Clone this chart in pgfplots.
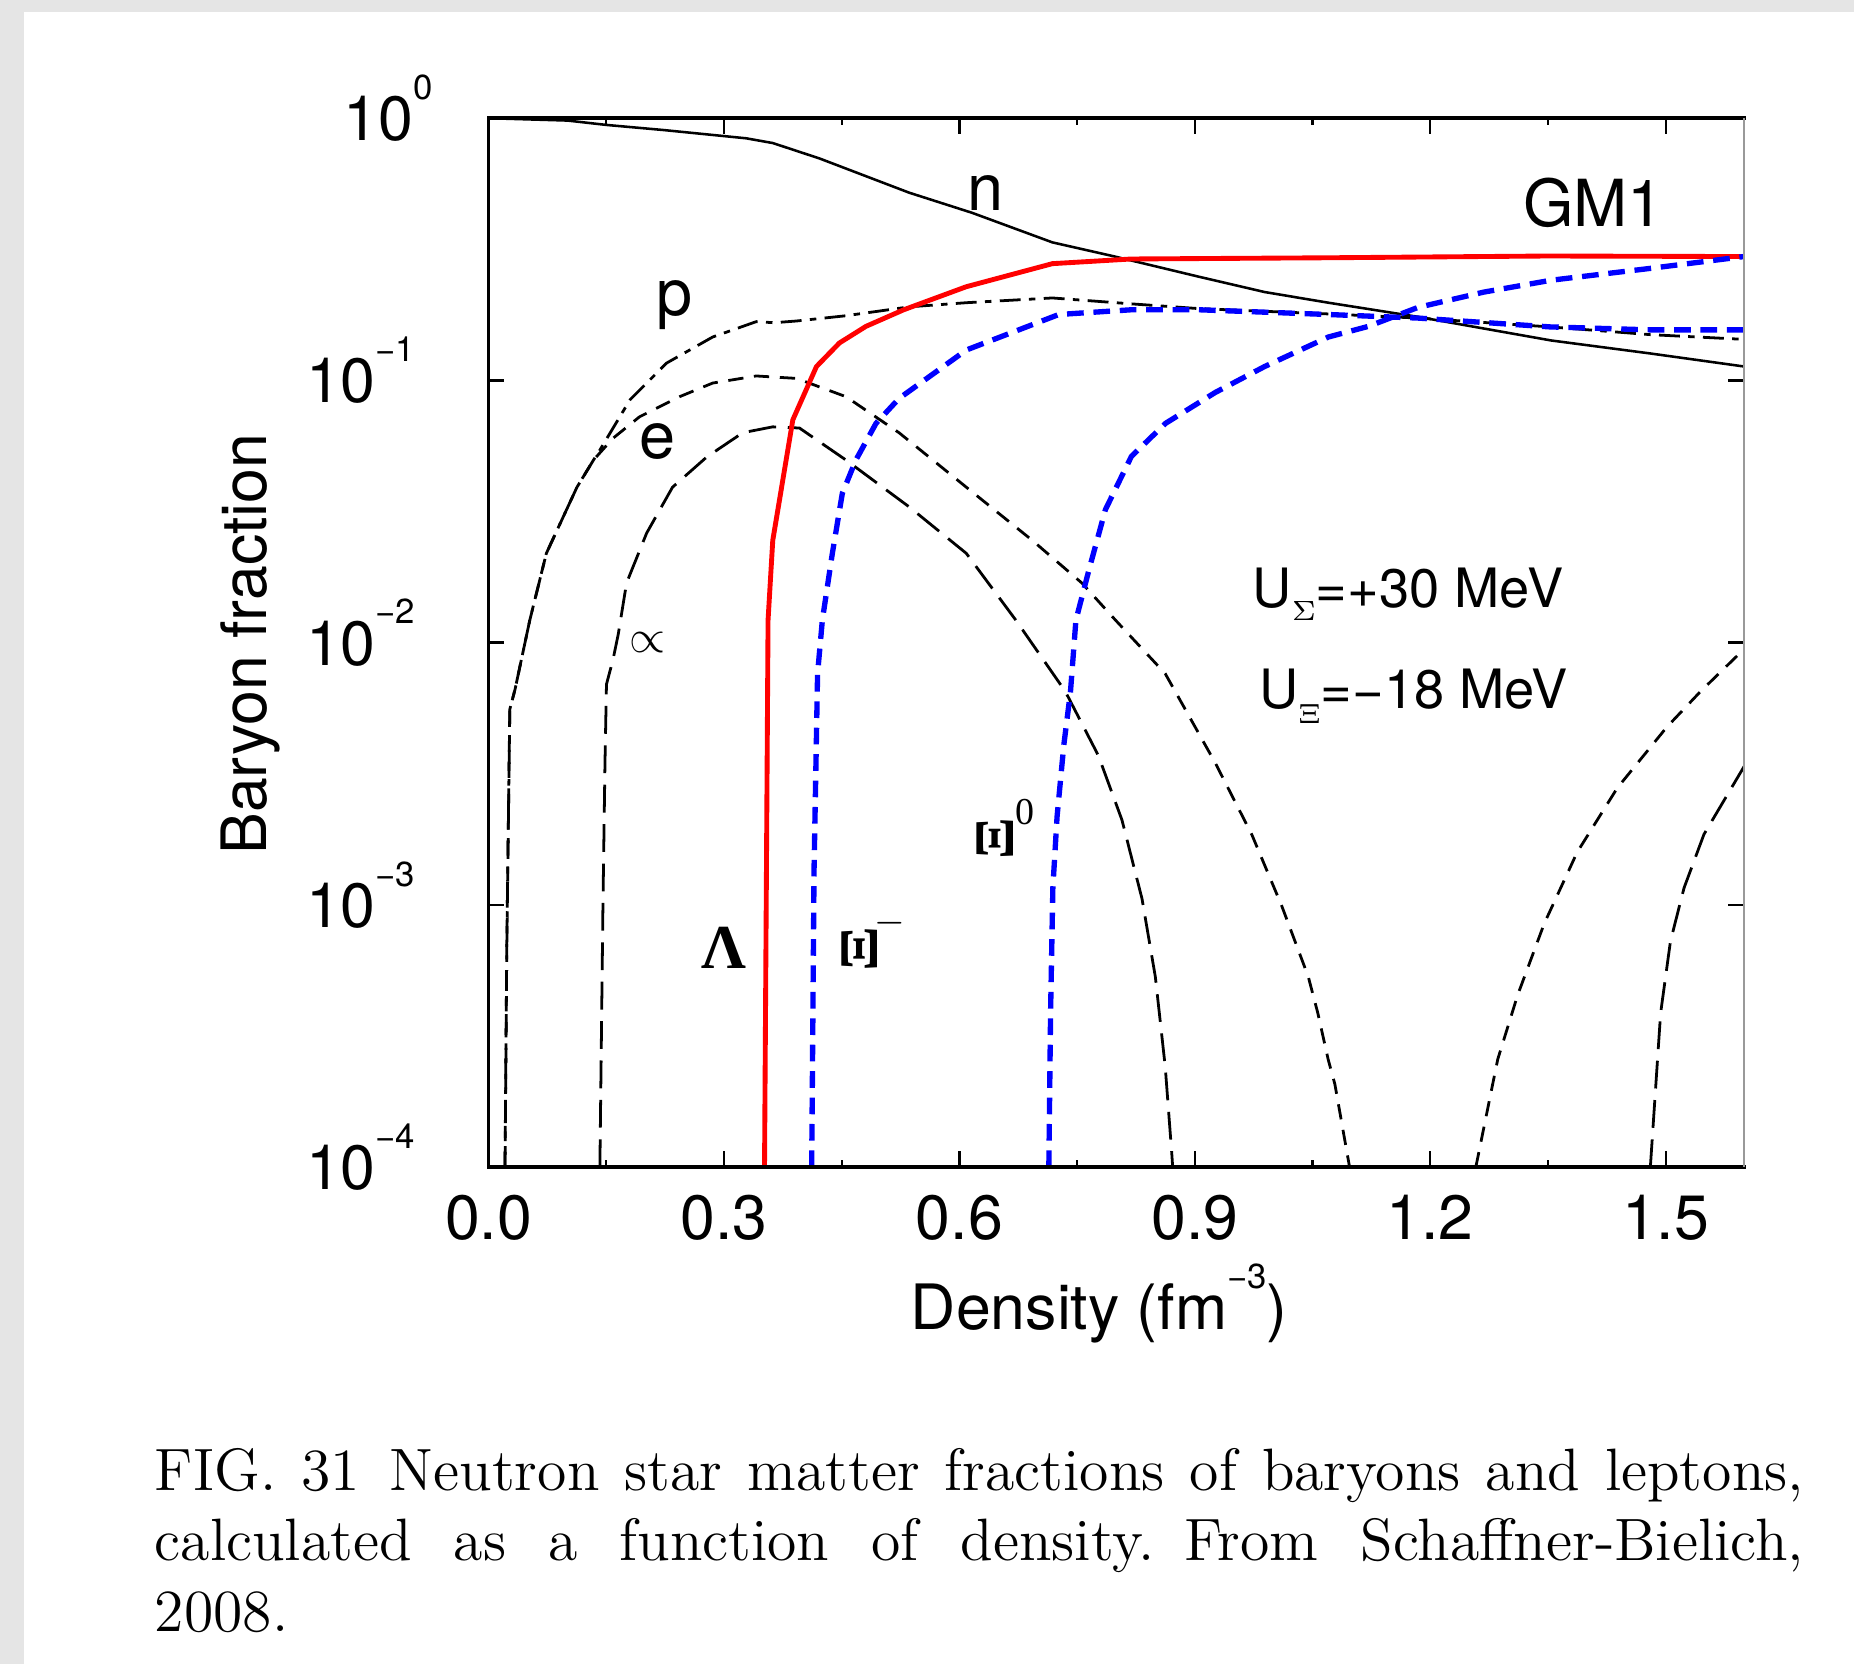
\documentclass[border=0pt]{standalone}
\usepackage{fontspec}
\usepackage{graphicx}
\usepackage{pgfplots}
\pgfplotsset{compat=1.18}
\newfontfamily\hv{TeX Gyre Heros}
\newfontfamily\tms{Liberation Serif}
\newcommand\hvs[1]{\hv\fontsize{#1}{#1}\selectfont}
\newcommand\ex[1]{\raisebox{0.66em}{\fontsize{7.5}{7.5}\selectfont #1}}
\definecolor{rd}{RGB}{255,0,0}
\definecolor{bl}{RGB}{0,0,255}
\begin{document}
\begin{tikzpicture}
\useasboundingbox (0pt,0pt) rectangle (400pt,359pt);
\fill[black!10] (0pt,0pt) rectangle (400pt,359pt);
\fill[white] (5.2pt,0pt) rectangle (400pt,356.4pt);
\begin{axis}[
  at={(105.4pt,107.2pt)}, anchor=south west,
  width=270.9pt, height=226.3pt, scale only axis,
  xmin=0, xmax=1.6, ymode=log, ymin=1e-4, ymax=1,
  xtick={0,0.3,0.6,0.9,1.2,1.5},
  xticklabels={0.0,0.3,0.6,0.9,1.2,1.5},
  minor x tick num=1,
  ytick={1e-4,1e-3,1e-2,1e-1,1},
  yticklabels={10\ex{−4},10\ex{−3},10\ex{−2},10\ex{−1},10\ex{0}\kern-3.8pt},
  yminorticks=false,
  tick align=inside,
  major tick length=3.4pt, minor tick length=1.5pt,
  every tick/.style={black, line width=0.5pt},
  axis line style={draw=none},
  clip mode=individual,
  tick label style={font=\hvs{13.5}},
  xticklabel style={anchor=north, inner sep=0pt, yshift=-5.8pt},
  yticklabel style={anchor=base east, inner sep=0pt, xshift=-15.6pt, yshift=-4.85pt},
  xlabel={Density (fm\ex{−3})},
  ylabel={Baryon fraction},
  label style={font=\hvs{13.5}},
  xlabel style={at={(axis description cs:0.4865,-0.130)}, anchor=center, inner sep=0pt},
  ylabel style={at={(axis description cs:-0.1894,0.4985)}, anchor=center, inner sep=0pt},
]
% n
\addplot[black, line width=0.55pt] coordinates {
(0,1.0) (0.1007,0.9795) (0.1503,0.9426) (0.2225,0.9016) (0.3284,0.8381) (0.3622,0.8040)
(0.4216,0.7026) (0.536,0.5200) (0.6163,0.4356) (0.7185,0.3361) (0.7981,0.2968)
(0.9049,0.2487) (0.989,0.2173) (1.0702,0.1979) (1.1844,0.1748) (1.3543,0.1420)
(1.4805,0.1267) (1.6,0.1130)};
% p
\addplot[black, line width=0.6pt, dash pattern=on 4.5pt off 1.8pt on 1.4pt off 1.8pt] coordinates {
(0.021,1e-4) (0.0233,6.97e-4) (0.0271,0.005563) (0.0338,0.006637) (0.0526,0.01219)
(0.0737,0.02191) (0.1127,0.03917) (0.1338,0.04973) (0.142,0.05433) (0.1804,0.08446)
(0.227,0.1165) (0.2856,0.1464) (0.3412,0.1676) (0.3637,0.166) (0.3923,0.1685)
(0.4555,0.1765) (0.5366,0.1909) (0.6088,0.1979) (0.7185,0.2063) (0.8192,0.1959)
(0.9049,0.1879) (1.0702,0.1793) (1.1844,0.1729) (1.3528,0.1600) (1.4805,0.1495)
(1.6,0.1434)};
% e
\addplot[black, line width=0.6pt, dash pattern=on 3.3pt off 2.3pt] coordinates {
(0.021,1e-4) (0.0233,6.97e-4) (0.0271,0.005563) (0.0338,0.006637) (0.0526,0.01219)
(0.0737,0.02191) (0.1127,0.03917) (0.1338,0.04973) (0.1587,0.06021) (0.1924,0.07266)
(0.2435,0.08670) (0.2856,0.09770) (0.3412,0.1040) (0.3923,0.1018) (0.4555,0.08670)
(0.5231,0.06318) (0.6088,0.03917) (0.6929,0.02455) (0.756,0.01689) (0.7989,0.01219)
(0.8623,0.007621) (0.9259,0.003486) (0.9725,0.001858) (1.0107,9.922e-4)
(1.0446,5.321e-4) (1.0567,3.873e-4) (1.0699,2.576e-4) (1.0785,2.070e-4) (1.0972,1e-4)};
% e (second branch)
\addplot[black, line width=0.6pt, dash pattern=on 3.3pt off 2.3pt] coordinates {
(1.2581,1e-4) (1.286,2.576e-4) (1.3114,4.530e-4) (1.3453,8.492e-4) (1.3873,0.001589)
(1.4384,0.002793) (1.5016,0.004770) (1.5444,0.006514) (1.5912,0.008913) (1.6,0.00944)};
% mu
\addplot[black, line width=0.6pt, dash pattern=on 6pt off 2.5pt] coordinates {
(0.1419,1e-4) (0.1458,9.922e-4) (0.1484,0.003486) (0.1503,0.006939) (0.1587,0.008637)
(0.1653,0.01076) (0.1759,0.01689) (0.2014,0.02614) (0.2345,0.03917) (0.2781,0.05105)
(0.3239,0.06318) (0.3622,0.06653) (0.3962,0.06584) (0.4554,0.04973) (0.5366,0.03284)
(0.6088,0.02191) (0.6719,0.01219) (0.735,0.006516) (0.7771,0.003710) (0.8072,0.002106)
(0.8327,0.001056) (0.8497,5.321e-4) (0.8623,2.416e-4) (0.8707,1.122e-4) (0.8718,1e-4)};
% mu (second branch)
\addplot[black, line width=0.6pt, dash pattern=on 6pt off 2.5pt] coordinates {
(1.4805,1e-4) (1.4936,3.873e-4) (1.5061,7.266e-4) (1.5234,0.001160) (1.5488,0.001858)
(1.6,0.003373)};
% Lambda
\addplot[rd, line width=1.05pt] coordinates {
(0.3517,1e-4) (0.3562,0.01219) (0.3622,0.02455) (0.3878,0.07079) (0.4179,0.1130)
(0.4472,0.1390) (0.481,0.1608) (0.5291,0.1860) (0.6088,0.2277) (0.7185,0.2788)
(0.8192,0.2905) (1.0702,0.2936) (1.3498,0.2982) (1.6,0.2968)};
% Xi-
\addplot[bl, line width=1.15pt, dash pattern=on 3.6pt off 2.1pt] coordinates {
(0.4118,1e-4) (0.4148,0.001358) (0.4193,0.007621) (0.4254,0.01219) (0.4381,0.02188)
(0.4509,0.03715) (0.4682,0.04977) (0.4938,0.06863) (0.5231,0.08535) (0.6088,0.1306)
(0.7267,0.1784) (0.8192,0.1860) (0.9049,0.1860) (1.0702,0.1784) (1.1844,0.1729)
(1.3528,0.1600) (1.4805,0.1559) (1.6,0.1559)};
% Xi0
\addplot[bl, line width=1.15pt, dash pattern=on 3.6pt off 2.1pt] coordinates {
(0.714,1e-4) (0.7162,3.873e-4) (0.7191,0.001159) (0.7245,0.002173) (0.7331,0.004074)
(0.7416,0.006516) (0.7485,0.01219) (0.7651,0.01894) (0.7861,0.03216) (0.8192,0.05132)
(0.8628,0.06863) (0.9259,0.08991) (0.989,0.1130) (1.0702,0.1464) (1.1213,0.1608)
(1.1844,0.1899) (1.2686,0.2173) (1.3543,0.2411) (1.4805,0.2675) (1.6,0.2968)};
% frame
\draw[line width=0.75pt, line cap=rect] (rel axis cs:1,0) -- (rel axis cs:0,0) -- (rel axis cs:0,1) -- (rel axis cs:1,1);
\draw[black!40, line width=0.35pt] (rel axis cs:1,0) -- (rel axis cs:1,1);
% labels
\node[font=\hvs{14}, inner sep=0pt] at (axis cs:0.6336,0.517) {n};
\node[font=\hvs{14}, inner sep=0pt] at (axis cs:1.408,0.4735) {GM1};
\node[font=\hvs{14}, inner sep=0pt] at (axis cs:0.2372,0.1943) {p};
\node[font=\hvs{14}, inner sep=0pt] at (axis cs:0.2149,0.05843) {e};
\node[font=\fontsize{10}{10}\selectfont, inner sep=0pt] at (axis cs:0.2029,0.01005) {$\propto$};
\node[font=\tms\bfseries\fontsize{13.5}{13.5}\selectfont, inner sep=0pt] at (axis cs:0.3006,6.863e-4) {Λ};
\node[font=\tms\bfseries\fontsize{13}{13}\selectfont, inner sep=0pt] at (axis cs:0.4724,6.761e-4) {\rotatebox{90}{\resizebox{9.7pt}{7.7pt}{Ξ}}};
\node[font=\fontsize{7.7}{7.7}\selectfont, inner sep=0pt] at (axis cs:0.5118,8.49e-4) {$-$};
\node[font=\tms\bfseries\fontsize{13}{13}\selectfont, inner sep=0pt] at (axis cs:0.6456,0.001788) {\rotatebox{90}{\resizebox{9.0pt}{7.9pt}{Ξ}}};
\node[font=\tms\fontsize{8.2}{8.2}\selectfont, inner sep=0pt] at (axis cs:0.6832,0.002254) {0};
\node[font=\hvs{11.7}, inner sep=0pt, anchor=base west] at (axis cs:0.9725,0.01367)
  {U\raisebox{-2.9pt}{\fontsize{6.5}{6.5}\selectfont$\Sigma$}=+30 MeV};
\node[font=\hvs{11.7}, inner sep=0pt, anchor=base west] at (axis cs:0.981,0.005585)
  {U\raisebox{-3.1pt}{\fontsize{6.5}{6.5}\selectfont$\Xi$}=−18 MeV};
\end{axis}
\node[anchor=base west, inner sep=0pt] at (33.2pt,37.5pt) {\fontsize{12.9}{15.3}\selectfont\makebox[355.8pt][s]{FIG.~31\enspace Neutron star matter fractions of baryons and leptons,}};
\node[anchor=base west, inner sep=0pt] at (33.2pt,22.4pt) {\fontsize{12.9}{15.3}\selectfont\makebox[355.8pt][s]{calculated as a function of density.\enspace From Schaffner-Bielich,}};
\node[anchor=base west, inner sep=0pt] at (33.2pt,7.0pt) {\fontsize{12.9}{15.3}\selectfont 2008.};
\end{tikzpicture}
\end{document}
